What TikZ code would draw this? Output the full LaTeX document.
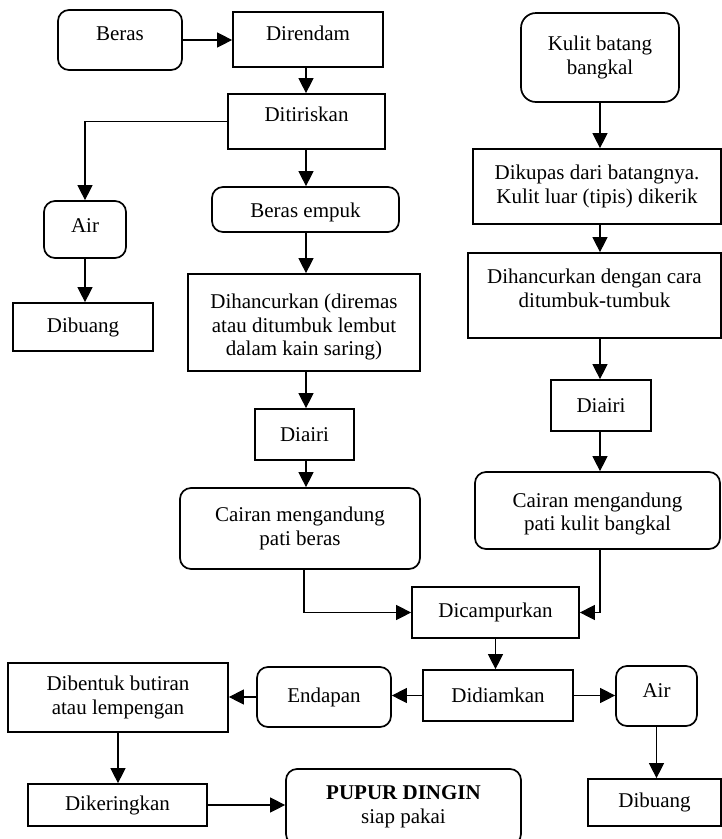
\documentclass[tikz,border=0pt]{standalone}
\usepackage{fontspec}
\setmainfont{Liberation Serif}
\usetikzlibrary{arrows.meta}
\newcommand\flowfont{\fontsize{21}{23.5}\selectfont}
\begin{document}
\begin{tikzpicture}[x=1pt,y=-1pt,
  sz/.style 2 args={minimum width=#1pt, minimum height=#2pt},
  sq/.style={draw, line width=1.7pt, inner sep=0pt, align=center, font=\flowfont},
  rd/.style={sq, rounded corners=11pt},
  txt/.style={inner sep=0pt, align=center, font=\flowfont},
  conn/.style={line width=1.1pt},
  arr/.style={conn, -{Triangle[length=15pt,width=15pt]}}]
\fill[white] (0,0) rectangle (722,839);
\useasboundingbox (0,0) rectangle (722,839);
\clip (0,0) rectangle (722,839);
% left column
\node[rd, sz={124}{60}, label={[txt,yshift=6pt]center:Beras}] (beras) at (120,40) {};
\node[sq, sz={150}{55}, label={[txt,yshift=6pt]center:Direndam}] (direndam) at (308,39.5) {};
\node[sq, sz={157}{55}, label={[txt,yshift=7pt]center:Ditiriskan}] (ditiris) at (306.5,121.5) {};
\node[rd, sz={82}{57}, label={[txt,yshift=3.5pt]center:Air}] (airL) at (85,229.5) {};
\node[rd, sz={187}{45}, label={[txt,yshift=-3pt]center:Beras empuk}] (empuk) at (305.5,209.5) {};
\node[sq, sz={140}{48}] (dibuangL) at (83,327) {Dibuang};
\node[sq, sz={232}{97}, label={[txt,yshift=-4.5pt]center:{Dihancurkan (diremas\\atau ditumbuk lembut\\dalam kain saring)}}] (hancurL) at (304,322.5) {};
\node[sq, sz={99}{51}] (diairiL) at (304.5,434.5) {Diairi};
\node[rd, sz={240}{81}] (cairanL) at (300,528.5) {Cairan mengandung\\pati beras};
% right column
\node[rd, rounded corners=15pt, sz={158}{89}] (kulit) at (600,57.5) {Kulit batang\\bangkal};
\node[sq, sz={248}{75}] (dikupas) at (597,186.5) {Dikupas dari batangnya.\\Kulit luar (tipis) dikerik};
\node[sq, sz={253}{85}, label={[txt,yshift=7.3pt]center:{Dihancurkan dengan cara\\ditumbuk-tumbuk}}] (hancurR) at (594.5,295.5) {};
\node[sq, sz={100}{51}] (diairiR) at (601,405.5) {Diairi};
\node[rd, sz={245}{77}, label={[txt,yshift=-3.5pt]center:{Cairan mengandung\\pati kulit bangkal}}] (cairanR) at (597.5,510.5) {};
% bottom
\node[sq, sz={167}{51}] (campur) at (495.5,612.5) {Dicampurkan};
\node[sq, sz={150}{51}] (diam) at (498,695.5) {Didiamkan};
\node[rd, sz={81}{60}, label={[txt,yshift=5pt]center:Air}] (airR) at (656.5,696) {};
\node[sq, sz={133}{47}] (dibuangR) at (654.5,802.5) {Dibuang};
\node[rd, sz={134}{60}] (endapan) at (324,697) {Endapan};
\node[sq, sz={220}{69}] (bentuk) at (118,697.5) {Dibentuk butiran\\atau lempengan};
\node[sq, sz={179}{42}] (kering) at (117.5,805) {Dikeringkan};
\node[rd, sz={235}{76}] (pupur) at (403.5,807) {\textbf{PUPUR DINGIN}\\siap pakai};
% connectors
\coordinate (cL) at (306,0);
\coordinate (cR) at (600,0);
\draw[arr] (beras.east) -- (beras.east -| direndam.west);
\draw[arr] (cL |- direndam.south) -- (cL |- ditiris.north);
\draw[arr] (ditiris.west) -| (airL.north);
\draw[arr] (cL |- ditiris.south) -- (cL |- empuk.north);
\draw[arr] (airL.south) -- (airL.south |- dibuangL.north);
\draw[arr] (cL |- empuk.south) -- (cL |- hancurL.north);
\draw[arr] (cL |- hancurL.south) -- (cL |- diairiL.north);
\draw[arr] (cL |- diairiL.south) -- (cL |- cairanL.north);
\draw[arr] ([xshift=4pt]cairanL.south) |- (campur.west);
\draw[arr] (cR |- kulit.south) -- (cR |- dikupas.north);
\draw[arr] (cR |- dikupas.south) -- (cR |- hancurR.north);
\draw[arr] (cR |- hancurR.south) -- (cR |- diairiR.north);
\draw[arr] (cR |- diairiR.south) -- (cR |- cairanR.north);
\draw[arr] (cR |- cairanR.south) |- (campur.east);
\draw[arr] (campur.south) -- (campur.south |- diam.north);
\draw[arr] (diam.west) -- (diam.west -| endapan.east);
\draw[arr] (diam.east) -- (diam.east -| airR.west);
\draw[arr] (airR.south) -- (airR.south |- dibuangR.north);
\draw[arr] (endapan.west) -- (endapan.west -| bentuk.east);
\draw[arr] (bentuk.south) -- (bentuk.south |- kering.north);
\draw[arr] (kering.east) -- (kering.east -| pupur.west);
\end{tikzpicture}
\end{document}
